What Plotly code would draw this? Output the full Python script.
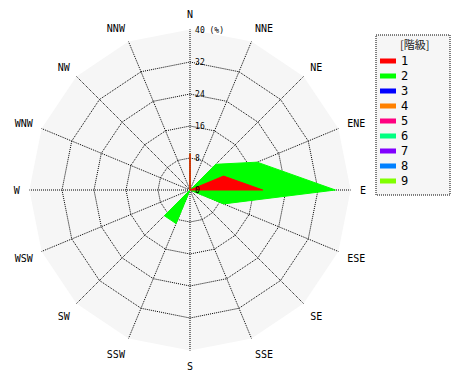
import plotly.graph_objects as go

directions = ["N", "NNE", "NE", "ENE", "E", "ESE", "SE", "SSE",
              "S", "SSW", "SW", "WSW", "W", "WNW", "NW", "NNW"]
# cumulative frequency (%) per class
class1 = [9.09, 0, 0, 9.09, 18.18, 0, 0, 0, 0, 0, 0, 0, 0, 0, 0, 0]
class2_cum = [9.09, 0, 9.09, 18.18, 36.36, 9.09, 0, 0, 0, 9.09, 9.09, 0, 0, 0, 0, 0]
class_names = ["1", "2", "3", "4", "5", "6", "7", "8", "9"]
class_colors = ["#ff0000", "#00ff00", "#0000ff", "#ff8000", "#ff0080",
                "#00ff80", "#8000ff", "#0080ff", "#80ff00"]
radial_ticks = [0, 8, 16, 24, 32, 40]
radial_ticktext = ["0", "8", "16", "24", "32", "40 (%)"]

W, H = 470, 380
OFF = 8  # page body margin of the browser
mono = "DejaVu Sans Mono"


def px(x):
    return (x - OFF) / W


def py(y):
    return 1 - (y - OFF) / H


fig = go.Figure()
# draw outer (cumulative) class first, then class 1 on top
for vals, color in [(class2_cum, class_colors[1]), (class1, class_colors[0])]:
    fig.add_trace(go.Scatterpolar(
        r=vals + vals[:1], theta=directions + directions[:1],
        mode="lines", fill="toself", fillcolor=color,
        line=dict(color=color, width=1), showlegend=False, hoverinfo="skip"))

rmax = 40.15
cx, cy, R = 190, 190, 160 * rmax / 40
fig.update_layout(
    width=W, height=H, margin=dict(l=0, r=0, t=0, b=0),
    paper_bgcolor="white", showlegend=False,
    font=dict(family=mono, size=10, color="black"),
    polar=dict(
        domain=dict(x=[px(cx - R), px(cx + R)], y=[py(cy + R), py(cy - R)]),
        bgcolor="#f6f6f6", gridshape="linear",
        angularaxis=dict(
            type="category", categoryarray=directions, rotation=90,
            direction="clockwise", showline=False,
            ticks="outside", ticklen=7, tickcolor="rgba(0,0,0,0)",
            gridcolor="black", griddash="1px,1px", gridwidth=1,
            tickfont=dict(family=mono, size=10)),
        radialaxis=dict(
            range=[0, rmax], angle=90, tickangle=90, tickvals=radial_ticks,
            ticktext=radial_ticktext, showline=False,
            ticks="outside", ticklen=3, tickcolor="rgba(0,0,0,0)",
            gridcolor="black", griddash="1px,1px", gridwidth=1,
            tickfont=dict(family=mono, size=8)),
    ),
)

# legend box (drawn as shapes / annotations)
lx0, ly0, lx1, ly1 = 376, 35, 450, 195
fig.add_shape(type="rect", xref="paper", yref="paper",
              x0=px(lx0), x1=px(lx1), y0=py(ly0), y1=py(ly1),
              fillcolor="#f6f6f6", line=dict(color="black", width=1, dash="1px,1px"),
              layer="below")
fig.add_annotation(xref="paper", yref="paper", x=px(414), y=py(44),
                   text="[階級]", showarrow=False, xanchor="center", yanchor="middle",
                   font=dict(family="Noto Sans CJK JP", size=11, color="#222222"))
for i, (name, color) in enumerate(zip(class_names, class_colors)):
    yc = 61 + 15 * i
    fig.add_shape(type="rect", xref="paper", yref="paper",
                  x0=px(380), x1=px(396), y0=py(yc - 2.5), y1=py(yc + 2.5),
                  fillcolor=color, line=dict(width=0))
    fig.add_annotation(xref="paper", yref="paper", x=px(399), y=py(yc),
                       text=name, showarrow=False, xanchor="left", yanchor="middle",
                       font=dict(family=mono, size=12, color="black"))

fig.write_html("out.html")
